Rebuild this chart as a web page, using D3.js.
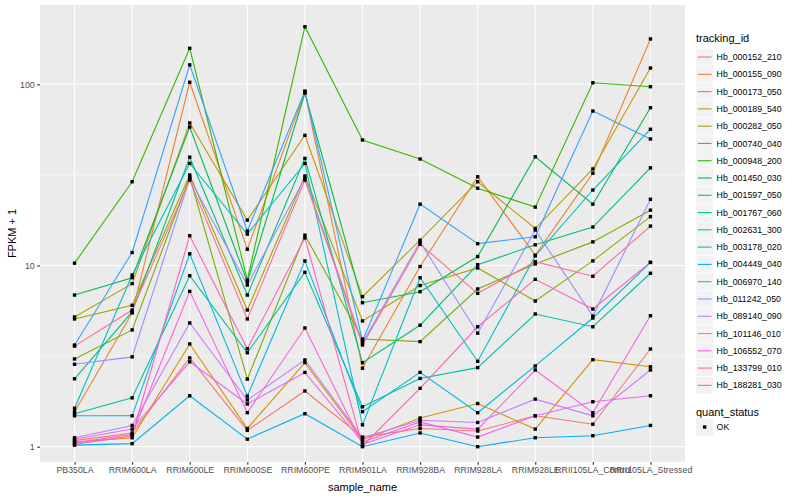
<!DOCTYPE html>
<html>
<head>
<meta charset="utf-8">
<script src="https://cdn.jsdelivr.net/npm/d3@7"></script>
<style>
  body { margin: 0; background: #fff; }
  text { font-family: "Liberation Sans", Arial, sans-serif; }
</style>
</head>
<body>
<svg id="chart" width="800" height="500"></svg>
<script>
const categories = ["PB350LA", "RRIM600LA", "RRIM600LE", "RRIM600SE", "RRIM600PE", "RRIM901LA",
  "RRIM928BA", "RRIM928LA", "RRIM928LE", "RRII105LA_Control", "RRII105LA_Stressed"];

const trackingIds = ["Hb_000152_210", "Hb_000155_090", "Hb_000173_050", "Hb_000189_540", "Hb_000282_050",
  "Hb_000740_040", "Hb_000948_200", "Hb_001450_030", "Hb_001597_050", "Hb_001767_060",
  "Hb_002631_300", "Hb_003178_020", "Hb_004449_040", "Hb_006970_140", "Hb_011242_050",
  "Hb_089140_090", "Hb_101146_010", "Hb_106552_070", "Hb_133799_010", "Hb_188281_030"];

const yTicks = [1, 10, 100];
const quantStatus = ["OK"];

// FPKM + 1, one array per gene, in category order
const hb000152_210 = [1.08, 1.19, 3.09, 1.23, 2.03, 1.13, 1.26, 1.22, 1.48, 1.33, 3.46];
const hb000155_090 = [1.56, 5.47, 102.6, 12.3, 90.7, 2.71, 9.87, 30.9, 11.4, 32.3, 178];
const hb000173_050 = [1.06, 1.12, 3.69, 1.26, 2.91, 1.09, 1.44, 1.73, 1.25, 3.02, 2.76];
const hb000189_540 = [5.20, 7.94, 61.2, 17.8, 52.3, 6.73, 13.8, 29.0, 16.0, 34.1, 123];
const hb000282_050 = [5.07, 6.03, 31.6, 5.68, 31.2, 4.94, 7.75, 9.69, 6.37, 10.6, 18.6];
const hb000740_040 = [3.05, 4.41, 30.8, 2.36, 14.7, 3.93, 3.80, 7.42, 10.2, 13.5, 20.2];
const hb000948_200 = [10.3, 29.0, 158, 8.32, 208, 49.3, 38.7, 26.7, 21.0, 102, 97.0];
const hb001450_030 = [6.87, 8.56, 58.1, 8.11, 89.5, 6.23, 7.17, 11.2, 39.8, 21.8, 74.3];
const hb001597_050 = [2.37, 5.54, 39.6, 6.87, 39.0, 2.91, 4.68, 10.1, 13.0, 16.3, 34.6];
const hb001767_060 = [1.52, 1.86, 8.78, 3.30, 9.17, 1.66, 2.38, 2.73, 5.40, 4.59, 9.06];
const hb002631_300 = [1.63, 8.86, 36.6, 14.9, 36.6, 1.32, 8.56, 2.96, 11.3, 26.1, 56.5];
const hb003178_020 = [1.48, 1.48, 11.6, 1.90, 10.6, 1.56, 2.57, 1.54, 2.79, 5.13, 10.4];
const hb004449_040 = [1.02, 1.04, 1.91, 1.10, 1.52, 1.00, 1.19, 1.00, 1.12, 1.15, 1.31];
const hb006970_140 = [3.64, 11.8, 128, 15.5, 91.8, 3.83, 21.8, 13.2, 14.4, 71.2, 49.9];
const hb011242_050 = [2.85, 3.13, 30.2, 7.80, 30.4, 3.73, 13.5, 4.23, 15.7, 5.26, 23.2];
const hb089140_090 = [1.12, 1.31, 4.82, 1.81, 3.01, 1.12, 1.40, 1.36, 1.83, 1.48, 2.65];
const hb101146_010 = [1.10, 1.25, 2.94, 1.72, 2.57, 1.06, 1.37, 1.13, 1.48, 1.77, 1.91];
const hb106552_070 = [1.05, 1.17, 7.20, 1.54, 4.52, 1.03, 1.32, 1.25, 2.65, 1.54, 5.28];
const hb133799_010 = [1.03, 1.15, 14.6, 3.47, 14.2, 1.01, 2.10, 4.59, 8.39, 5.75, 10.4];
const hb188281_030 = [3.59, 5.68, 29.6, 5.07, 29.6, 3.64, 13.1, 7.02, 10.5, 8.72, 16.5];

const seriesValues = [hb000152_210, hb000155_090, hb000173_050, hb000189_540, hb000282_050,
  hb000740_040, hb000948_200, hb001450_030, hb001597_050, hb001767_060,
  hb002631_300, hb003178_020, hb004449_040, hb006970_140, hb011242_050,
  hb089140_090, hb101146_010, hb106552_070, hb133799_010, hb188281_030];

// ggplot hue palette for 20 levels
const palette = ["#F8766D", "#EA8331", "#D89000", "#C09B00", "#A3A500", "#7CAE00", "#39B600",
  "#00BB4E", "#00BF7D", "#00C1A3", "#00BFC4", "#00BAE0", "#00B0F6", "#35A2FF", "#9590FF",
  "#C77CFF", "#E76BF3", "#FA62DB", "#FF62BC", "#FF6C91"];

const series = trackingIds.map((id, i) => ({
  id,
  values: seriesValues[i].map((v, j) => ({ sample: categories[j], value: v }))
}));

const svg = d3.select("#chart");
const panel = { left: 40, right: 685, top: 5, bottom: 462 };

const x = d3.scalePoint()
  .domain(categories)
  .range([panel.left, panel.right])
  .padding(0.6);

const y = d3.scaleLog()
  .domain([0.823, 274])
  .range([panel.bottom, panel.top]);

const color = d3.scaleOrdinal().domain(trackingIds).range(palette);

// panel background + grid
svg.append("rect")
  .attr("x", panel.left).attr("y", panel.top)
  .attr("width", panel.right - panel.left).attr("height", panel.bottom - panel.top)
  .attr("fill", "#EBEBEB");

const grid = svg.append("g");
grid.selectAll(".minor")
  .data([Math.sqrt(10), Math.sqrt(1000)])
  .join("line")
  .attr("x1", panel.left).attr("x2", panel.right)
  .attr("y1", d => y(d)).attr("y2", d => y(d))
  .attr("stroke", "#fff").attr("stroke-width", 0.55);
grid.selectAll(".major-y")
  .data(yTicks)
  .join("line")
  .attr("x1", panel.left).attr("x2", panel.right)
  .attr("y1", d => y(d)).attr("y2", d => y(d))
  .attr("stroke", "#fff").attr("stroke-width", 1.1);
grid.selectAll(".major-x")
  .data(categories)
  .join("line")
  .attr("x1", d => x(d)).attr("x2", d => x(d))
  .attr("y1", panel.top).attr("y2", panel.bottom)
  .attr("stroke", "#fff").attr("stroke-width", 1.1);

// lines
const line = d3.line()
  .x(d => x(d.sample))
  .y(d => y(d.value));

svg.append("g")
  .selectAll("path")
  .data(series)
  .join("path")
  .attr("d", d => line(d.values))
  .attr("fill", "none")
  .attr("stroke", d => color(d.id))
  .attr("stroke-width", 1.1);

// points
const pts = 3.4;
svg.append("g")
  .selectAll("g")
  .data(series)
  .join("g")
  .selectAll("rect")
  .data(d => d.values)
  .join("rect")
  .attr("x", d => x(d.sample) - pts / 2)
  .attr("y", d => y(d.value) - pts / 2)
  .attr("width", pts).attr("height", pts)
  .attr("fill", "#000");

// axes
const xAxis = d3.axisBottom(x).tickSize(2.75).tickPadding(2.5);
const yAxis = d3.axisLeft(y).tickValues(yTicks).tickFormat(d3.format("d")).tickSize(2.75).tickPadding(2.5);

const gx = svg.append("g")
  .attr("transform", `translate(0,${panel.bottom})`)
  .call(xAxis);
const gy = svg.append("g")
  .attr("transform", `translate(${panel.left},0)`)
  .call(yAxis);

[gx, gy].forEach(g => {
  g.select(".domain").remove();
  g.selectAll(".tick line").attr("stroke", "#333").attr("stroke-width", 1.1);
  g.selectAll(".tick text")
    .attr("fill", "#4D4D4D")
    .style("font-size", "8.8px")
    .style("font-family", "'Liberation Sans', Arial, sans-serif");
});

svg.append("text")
  .attr("x", (panel.left + panel.right) / 2)
  .attr("y", 491)
  .attr("text-anchor", "middle")
  .style("font-size", "11px")
  .text("sample_name");

svg.append("text")
  .attr("transform", `translate(16,${(panel.top + panel.bottom) / 2}) rotate(-90)`)
  .attr("text-anchor", "middle")
  .style("font-size", "11px")
  .text("FPKM + 1");

// legend: tracking_id
const keySize = 17.28;
const legend = svg.append("g").attr("transform", "translate(696,0)");

legend.append("text")
  .attr("x", 0).attr("y", 42)
  .style("font-size", "11px")
  .text("tracking_id");

const items = legend.selectAll(".item")
  .data(trackingIds)
  .join("g")
  .attr("transform", (d, i) => `translate(0,${48.4 + i * keySize})`);

items.append("rect")
  .attr("width", keySize).attr("height", keySize)
  .attr("fill", "#F2F2F2").attr("stroke", "#fff").attr("stroke-width", 0.6);
items.append("line")
  .attr("x1", 1.7).attr("x2", keySize - 1.7)
  .attr("y1", keySize / 2).attr("y2", keySize / 2)
  .attr("stroke", d => color(d)).attr("stroke-width", 1.1);
items.append("text")
  .attr("x", keySize + 3.3).attr("y", keySize / 2)
  .attr("dy", "0.35em")
  .style("font-size", "8.8px")
  .text(d => d);

// legend: quant_status
legend.append("text")
  .attr("x", 0).attr("y", 416)
  .style("font-size", "11px")
  .text("quant_status");

const qs = legend.selectAll(".qs")
  .data(quantStatus)
  .join("g")
  .attr("transform", (d, i) => `translate(0,${418.4 + i * keySize})`);
qs.append("rect")
  .attr("width", keySize).attr("height", keySize)
  .attr("fill", "#F2F2F2");
qs.append("rect")
  .attr("x", keySize / 2 - pts / 2).attr("y", keySize / 2 - pts / 2)
  .attr("width", pts).attr("height", pts)
  .attr("fill", "#000");
qs.append("text")
  .attr("x", keySize + 3.3).attr("y", keySize / 2)
  .attr("dy", "0.35em")
  .style("font-size", "8.8px")
  .text(d => d);
</script>
</body>
</html>
